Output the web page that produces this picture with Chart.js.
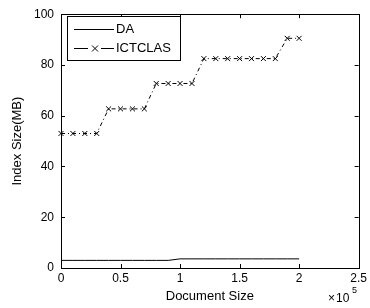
<!DOCTYPE html>
<html>
	<head>
		<meta charset="UTF-8" />
		<title>Index Size</title>
		<style type="text/css">
body { margin: 0; background: #fff; }
		</style>
	</head>
	<body>
		<script src="https://cdn.jsdelivr.net/npm/chart.js@4/dist/chart.umd.min.js"></script>
		<canvas id="myChart" width="370" height="308"></canvas>
		<script charset="utf-8">
			// document size, in units of 10^5
			const docSize = [0, 0.1, 0.2, 0.3, 0.4, 0.5, 0.6, 0.7, 0.8, 0.9, 1.0,
							1.1, 1.2, 1.3, 1.4, 1.5, 1.6, 1.7, 1.8, 1.9, 2.0];
			const daSize = [3.0, 3.0, 3.0, 3.0, 3.0, 3.0, 3.0, 3.0, 3.0, 3.0, 3.6,
							3.6, 3.6, 3.6, 3.6, 3.6, 3.6, 3.6, 3.6, 3.6, 3.6];
			const ictclasSize = [53, 53, 53, 53, 62.7, 62.7, 62.7, 62.7, 72.7, 72.7, 72.7,
							72.7, 82.5, 82.5, 82.5, 82.5, 82.5, 82.5, 82.5, 90.5, 90.5];
			const xTicks = [0, 0.5, 1, 1.5, 2, 2.5];
			const yTicks = [0, 20, 40, 60, 80, 100];
			const seriesNames = ['DA', 'ICTCLAS'];

			const pts = arr => arr.map((v, i) => ({x: docSize[i], y: v}));

			const frame = {
				id: 'frame',
				afterDatasetsDraw(chart) {
					const ctx = chart.ctx;
					const a = chart.chartArea;
					const xs = chart.scales.x, ys = chart.scales.y;
					ctx.save();
					ctx.strokeStyle = '#000';
					ctx.lineWidth = 1;
					ctx.strokeRect(Math.round(a.left) + 0.5, Math.round(a.top) + 0.5,
						Math.round(a.right - a.left), Math.round(a.bottom - a.top));
					ctx.beginPath();
					xTicks.forEach(t => {
						const px = Math.round(xs.getPixelForValue(t)) + 0.5;
						ctx.moveTo(px, a.bottom); ctx.lineTo(px, a.bottom - 4);
						ctx.moveTo(px, a.top); ctx.lineTo(px, a.top + 4);
					});
					yTicks.forEach(t => {
						const py = Math.round(ys.getPixelForValue(t)) + 0.5;
						ctx.moveTo(a.left, py); ctx.lineTo(a.left + 4, py);
						ctx.moveTo(a.right, py); ctx.lineTo(a.right - 4, py);
					});
					ctx.stroke();

					// exponent label
					ctx.fillStyle = '#000';
					ctx.textBaseline = 'alphabetic';
					ctx.font = '12px "Liberation Sans"';
					ctx.fillText('\u00d7', 328, 302);
					ctx.fillText('10', 336, 302);
					ctx.font = '9px "Liberation Sans"';
					ctx.fillText('5', 352, 293);

					// legend
					const lx = 67.5, ly = 16.5;
					ctx.fillStyle = '#fff';
					ctx.fillRect(lx, ly, 113, 44);
					ctx.strokeRect(lx, ly, 113, 44);
					ctx.beginPath();
					ctx.moveTo(74, 29.5); ctx.lineTo(114, 29.5);
					ctx.moveTo(74, 48.5); ctx.lineTo(88, 48.5);
					ctx.moveTo(101, 48.5); ctx.lineTo(114, 48.5);
					ctx.moveTo(92, 45.5); ctx.lineTo(98, 51.5);
					ctx.moveTo(98, 45.5); ctx.lineTo(92, 51.5);
					ctx.stroke();
					ctx.fillStyle = '#000';
					ctx.font = '13px "Liberation Sans"';
					ctx.textBaseline = 'middle';
					ctx.fillText(seriesNames[0], 116, 29);
					ctx.fillText(seriesNames[1], 116, 48);
					ctx.restore();
				}
			};

			const data = {
				datasets: [{
					label: seriesNames[0],
					data: pts(daSize),
					borderColor: '#000',
					borderWidth: 1,
					pointRadius: 0,
					tension: 0
				}, {
					label: seriesNames[1],
					data: pts(ictclasSize),
					borderColor: '#000',
					borderWidth: 1,
					borderDash: [4, 3, 1, 3],
					pointStyle: 'crossRot',
					pointRadius: 3.5,
					pointBorderColor: '#000',
					pointBorderWidth: 1,
					clip: false,
					tension: 0
				}]
			};

			const config = {
				type: 'line',
				data,
				options: {
					responsive: false,
					animation: false,
					events: [],
					layout: {padding: {left: 0, right: 7, top: 12, bottom: 0}},
					plugins: {legend: {display: false}, tooltip: {enabled: false}},
					scales: {
						x: {
							type: 'linear',
							min: 0, max: 2.5,
							afterBuildTicks: s => { s.ticks = xTicks.map(v => ({value: v})); },
							afterFit: s => { s.height = 40; },
							grid: {display: false, drawTicks: false},
							border: {display: false},
							ticks: {
								padding: 3, color: '#000',
								font: {family: 'Liberation Sans', size: 12},
								callback: v => String(v)
							},
							title: {
								display: true, text: 'Document Size', color: '#000',
								font: {family: 'Liberation Sans', size: 13},
								padding: {top: 0, bottom: 4}
							}
						},
						y: {
							min: 0, max: 100,
							afterBuildTicks: s => { s.ticks = yTicks.map(v => ({value: v})); },
							afterFit: s => { s.width = 61; },
							grid: {display: false, drawTicks: false},
							border: {display: false},
							ticks: {
								padding: 7, color: '#000',
								font: {family: 'Liberation Sans', size: 12}
							},
							title: {
								display: true, text: 'Index Size(MB)', color: '#000',
								font: {family: 'Liberation Sans', size: 13},
								padding: {top: 10, bottom: 0}
							}
						}
					}
				},
				plugins: [frame]
			};

			var ctx = document.getElementById('myChart').getContext('2d');
			var myChart = new Chart(ctx, config);
		</script>
	</body>
</html>
